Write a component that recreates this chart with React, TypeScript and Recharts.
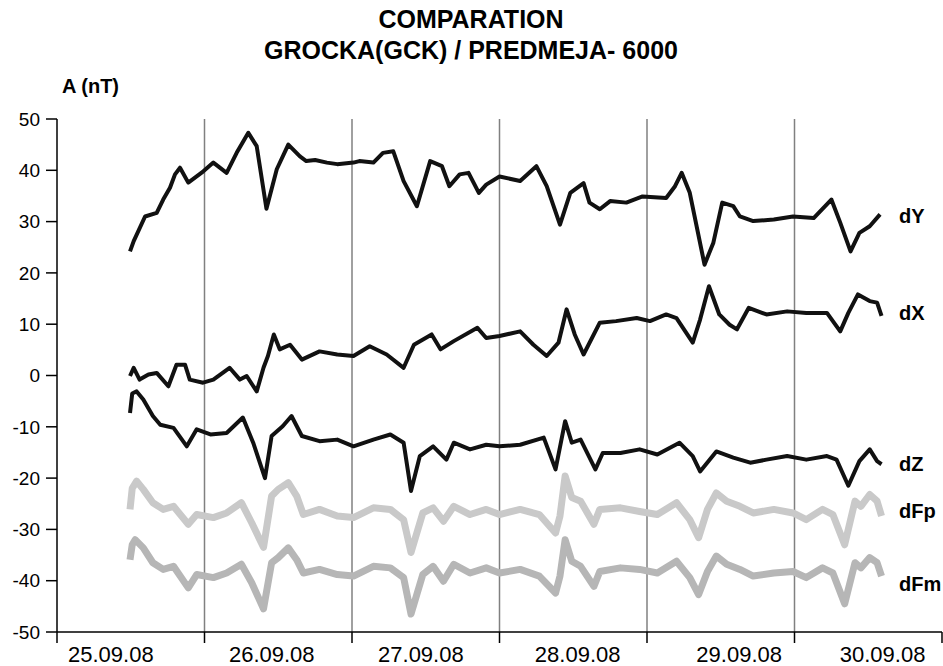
import React from 'react';
import { LineChart, Line, XAxis, YAxis, ReferenceLine } from 'recharts';

// time in days after 25.09.08 00:00, value in nT
const dY: [number, number][] = [
  [0.495, 24.2], [0.52, 26.2], [0.597, 31.0], [0.676, 31.7], [0.72, 34.3], [0.766, 36.6], [0.8, 39.2],
  [0.834, 40.5], [0.89, 37.6], [0.992, 39.8], [1.06, 41.5], [1.15, 39.5], [1.218, 43.4], [1.297, 47.3],
  [1.354, 44.7], [1.42, 32.5], [1.49, 40.2], [1.568, 45.0], [1.647, 42.7], [1.69, 41.8], [1.75, 42.0],
  [1.83, 41.5], [1.9, 41.2], [2.01, 41.5], [2.05, 41.8], [2.145, 41.5], [2.21, 43.4], [2.28, 43.7],
  [2.35, 37.9], [2.44, 33.0], [2.53, 41.8], [2.61, 40.8], [2.66, 36.9], [2.73, 39.2], [2.79, 39.5],
  [2.86, 35.6], [2.91, 37.2], [3.0, 38.8], [3.14, 37.9], [3.25, 40.8], [3.32, 36.9], [3.41, 29.4],
  [3.48, 35.6], [3.57, 37.5], [3.61, 33.7], [3.68, 32.4], [3.75, 34.0], [3.86, 33.7], [3.97, 34.9],
  [4.13, 34.6], [4.19, 36.9], [4.235, 39.5], [4.29, 35.6], [4.39, 21.6], [4.45, 25.9], [4.51, 33.7],
  [4.585, 33.0], [4.63, 31.0], [4.72, 30.1], [4.86, 30.4], [4.99, 31.0], [5.13, 30.7], [5.25, 34.3],
  [5.31, 29.8], [5.38, 24.2], [5.44, 27.8], [5.51, 29.1], [5.58, 31.4],
];

const dX: [number, number][] = [
  [0.495, -0.1], [0.52, 1.5], [0.56, -0.8], [0.62, 0.2], [0.676, 0.5], [0.755, -2.1], [0.81, 2.1],
  [0.868, 2.1], [0.9, -0.8], [0.99, -1.4], [1.06, -0.8], [1.17, 1.5], [1.24, -0.8], [1.286, -0.1],
  [1.354, -3.1], [1.4, 1.5], [1.43, 3.8], [1.47, 8.0], [1.51, 5.1], [1.58, 6.0], [1.66, 3.1],
  [1.78, 4.7], [1.9, 4.1], [2.01, 3.8], [2.12, 5.7], [2.235, 4.1], [2.35, 1.5], [2.42, 6.0],
  [2.54, 8.0], [2.6, 5.1], [2.69, 6.7], [2.85, 9.3], [2.91, 7.3], [3.0, 7.7], [3.14, 8.6],
  [3.23, 6.0], [3.32, 3.8], [3.4, 6.4], [3.455, 12.9], [3.51, 8.0], [3.57, 4.1], [3.68, 10.3],
  [3.79, 10.6], [3.93, 11.2], [4.02, 10.6], [4.13, 11.9], [4.2, 11.2], [4.31, 6.4], [4.36, 10.9],
  [4.42, 17.4], [4.49, 11.9], [4.56, 9.9], [4.61, 9.0], [4.69, 13.2], [4.81, 11.9], [4.95, 12.5],
  [5.08, 12.2], [5.22, 12.2], [5.31, 8.6], [5.365, 12.2], [5.43, 15.8], [5.51, 14.5], [5.56, 14.2],
  [5.59, 11.6],
];

const dZ: [number, number][] = [
  [0.495, -7.3], [0.51, -3.5], [0.54, -3.1], [0.585, -4.7], [0.65, -7.9], [0.7, -9.6], [0.79, -10.2],
  [0.88, -13.8], [0.947, -10.5], [1.04, -11.5], [1.15, -11.2], [1.26, -8.2], [1.33, -13.1],
  [1.41, -20.0], [1.455, -11.8], [1.53, -9.9], [1.59, -7.9], [1.66, -11.8], [1.78, -12.8],
  [1.9, -12.5], [2.01, -13.8], [2.145, -12.5], [2.26, -11.5], [2.35, -13.1], [2.4, -22.5],
  [2.46, -15.7], [2.55, -13.8], [2.64, -16.4], [2.69, -13.1], [2.8, -14.4], [2.91, -13.5],
  [3.0, -13.8], [3.14, -13.5], [3.3, -12.1], [3.38, -18.3], [3.445, -8.9], [3.49, -13.1],
  [3.55, -12.5], [3.65, -18.3], [3.7, -15.1], [3.82, -15.1], [3.95, -14.4], [4.07, -15.4],
  [4.22, -13.1], [4.31, -15.7], [4.36, -18.7], [4.47, -14.8], [4.585, -16.0], [4.7, -17.0],
  [4.81, -16.4], [4.95, -15.7], [5.08, -16.4], [5.22, -15.7], [5.285, -16.4], [5.365, -21.5],
  [5.44, -16.7], [5.51, -14.4], [5.56, -16.7], [5.59, -17.3],
];

const dFp: [number, number][] = [
  [0.495, -26.1], [0.51, -22.0], [0.54, -20.6], [0.585, -22.2], [0.65, -24.8], [0.72, -26.1],
  [0.79, -25.5], [0.89, -29.0], [0.947, -27.1], [1.06, -27.7], [1.15, -26.8], [1.25, -24.8],
  [1.32, -28.7], [1.4, -33.5], [1.455, -23.5], [1.5, -22.2], [1.568, -20.9], [1.625, -23.5],
  [1.67, -27.1], [1.78, -26.1], [1.9, -27.4], [2.01, -27.7], [2.145, -25.8], [2.26, -26.1],
  [2.35, -28.1], [2.4, -34.5], [2.48, -26.8], [2.55, -25.8], [2.62, -28.4], [2.69, -25.5],
  [2.8, -27.1], [2.91, -26.1], [3.0, -27.1], [3.14, -26.1], [3.27, -27.1], [3.38, -30.7],
  [3.41, -27.4], [3.445, -19.6], [3.49, -23.8], [3.55, -24.5], [3.64, -29.0], [3.68, -26.1],
  [3.82, -25.8], [3.95, -26.5], [4.07, -27.1], [4.2, -24.8], [4.29, -28.1], [4.35, -31.6],
  [4.41, -26.1], [4.47, -22.9], [4.54, -24.5], [4.63, -25.5], [4.72, -26.8], [4.86, -26.1],
  [4.99, -26.8], [5.08, -28.1], [5.19, -26.1], [5.26, -27.1], [5.34, -33.0], [5.41, -24.5],
  [5.45, -25.5], [5.51, -23.2], [5.56, -24.5], [5.59, -27.4],
];

const dFm: [number, number][] = [
  [0.495, -35.9], [0.51, -33.0], [0.53, -32.0], [0.585, -33.6], [0.65, -36.5], [0.72, -37.8],
  [0.79, -37.2], [0.89, -41.4], [0.947, -38.8], [1.06, -39.4], [1.15, -38.5], [1.25, -36.8],
  [1.32, -40.4], [1.4, -45.5], [1.455, -36.5], [1.5, -35.5], [1.568, -33.6], [1.625, -35.9],
  [1.67, -38.5], [1.78, -37.8], [1.9, -38.8], [2.01, -39.1], [2.145, -37.2], [2.26, -37.5],
  [2.35, -39.4], [2.4, -46.5], [2.48, -38.8], [2.55, -37.2], [2.62, -40.1], [2.69, -36.8],
  [2.8, -38.5], [2.91, -37.5], [3.0, -38.5], [3.14, -37.8], [3.27, -39.1], [3.38, -42.4],
  [3.41, -39.1], [3.445, -32.0], [3.49, -36.2], [3.55, -37.2], [3.64, -41.1], [3.68, -38.2],
  [3.82, -37.5], [3.95, -37.8], [4.07, -38.5], [4.2, -36.2], [4.29, -39.4], [4.35, -42.7],
  [4.41, -38.2], [4.47, -35.2], [4.54, -36.8], [4.63, -37.8], [4.72, -39.1], [4.86, -38.5],
  [4.99, -38.2], [5.08, -39.4], [5.19, -37.5], [5.26, -38.5], [5.34, -44.5], [5.41, -36.5],
  [5.45, -37.5], [5.51, -35.5], [5.56, -36.5], [5.59, -39.1],
];

const dayLabels = ['25.09.08', '26.09.08', '27.09.08', '28.09.08', '29.09.08', '30.09.08'];
// where each date label sits, as a fraction of its day
const labelShift = [0.365, 0.456, 0.467, 0.53, 0.625, 0.597];
const dayTicks = [0, 1, 2, 3, 4, 5, 6];
const gridDays = [1, 2, 3, 4, 5];
const yTicks = [-50, -40, -30, -20, -10, 0, 10, 20, 30, 40, 50];

const W = 943;
const H = 666;
const LEFT = 57;
const RIGHT = 1;
const DAY_PX = (W - LEFT - RIGHT) / 6;
const FONT = '"Liberation Sans", Arial, Helvetica, sans-serif';

const toPoints = (s: [number, number][]) => s.map(([t, v]) => ({ t, v }));

const DayTick = (props: any) => {
  const { x, y, payload } = props;
  const label = dayLabels[payload.value];
  if (!label) return null;
  return (
    <text
      x={x + DAY_PX * labelShift[payload.value]}
      y={y}
      dy={17}
      textAnchor="middle"
      fontSize={22}
      fill="#000"
      fontFamily={FONT}
    >
      {label}
    </text>
  );
};

const seriesLabels = [
  { name: 'dY', y: 223 },
  { name: 'dX', y: 320 },
  { name: 'dZ', y: 471 },
  { name: 'dFp', y: 518 },
  { name: 'dFm', y: 591 },
];

export default function App() {
  return (
    <div style={{ position: 'absolute', left: 0, top: 0, width: W, height: H, background: '#fff' }}>
      <LineChart width={W} height={H} margin={{ top: 119, right: RIGHT, bottom: 0, left: 0 }}>
        <XAxis
          dataKey="t"
          type="number"
          domain={[0, 6]}
          ticks={dayTicks}
          height={34}
          tickSize={11}
          axisLine={{ stroke: '#000', strokeWidth: 1.5 }}
          tickLine={{ stroke: '#000', strokeWidth: 1.5 }}
          tick={<DayTick />}
          interval={0}
        />
        <YAxis
          type="number"
          domain={[-50, 50]}
          ticks={yTicks}
          width={LEFT}
          tickSize={11}
          tickMargin={6}
          interval={0}
          axisLine={{ stroke: '#000', strokeWidth: 1.5 }}
          tickLine={{ stroke: '#000', strokeWidth: 1.5 }}
          tick={{ fontSize: 19, fill: '#000', fontFamily: FONT }}
        />
        {gridDays.map((d) => (
          <ReferenceLine key={d} x={d} stroke="#808080" strokeWidth={1.5} />
        ))}
        <Line data={toPoints(dFp)} dataKey="v" type="linear" stroke="#c9c9c9" strokeWidth={7} dot={false} strokeLinejoin="round" isAnimationActive={false} />
        <Line data={toPoints(dFm)} dataKey="v" type="linear" stroke="#b6b6b6" strokeWidth={7} dot={false} strokeLinejoin="round" isAnimationActive={false} />
        <Line data={toPoints(dZ)} dataKey="v" type="linear" stroke="#111" strokeWidth={4} dot={false} strokeLinejoin="round" isAnimationActive={false} />
        <Line data={toPoints(dX)} dataKey="v" type="linear" stroke="#111" strokeWidth={4} dot={false} strokeLinejoin="round" isAnimationActive={false} />
        <Line data={toPoints(dY)} dataKey="v" type="linear" stroke="#111" strokeWidth={4} dot={false} strokeLinejoin="round" isAnimationActive={false} />
      </LineChart>
      <svg width={W} height={H} style={{ position: 'absolute', left: 0, top: 0, pointerEvents: 'none' }}>
        <g fontFamily={FONT} fontWeight="bold" fill="#000">
          <text x={471} y={28} textAnchor="middle" fontSize={25}>COMPARATION</text>
          <text x={471} y={59} textAnchor="middle" fontSize={25}>GROCKA(GCK) / PREDMEJA- 6000</text>
          <text x={62} y={93} fontSize={20}>A (nT)</text>
          {seriesLabels.map((s) => (
            <text key={s.name} x={899} y={s.y} fontSize={20}>{s.name}</text>
          ))}
        </g>
      </svg>
    </div>
  );
}
